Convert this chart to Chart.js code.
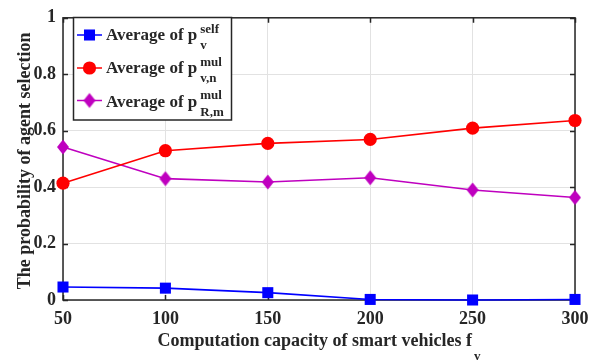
<!DOCTYPE html>
<html>
<head>
<meta charset="utf-8">
<script src="https://cdn.jsdelivr.net/npm/chart.js@4/dist/chart.umd.min.js"></script>
<style>
  html, body { margin: 0; padding: 0; background: #fff; }
  #wrap { width: 600px; height: 362px; position: relative; }
</style>
</head>
<body>
<div id="wrap"><canvas id="c" width="600" height="362"></canvas></div>
<script>
// Computation capacity of smart vehicles (x) and average selection probabilities
const capacities = [50, 100, 150, 200, 250, 300];
const pSelf     = [0.046, 0.042, 0.026, 0.002, 0.000, 0.002];
const pMulVN    = [0.414, 0.529, 0.555, 0.569, 0.609, 0.636];
const pMulRM    = [0.542, 0.430, 0.418, 0.433, 0.390, 0.363];
const xTicks = [50, 100, 150, 200, 250, 300];
const yTicks = [0, 0.2, 0.4, 0.6, 0.8, 1];

const SERIF = '"Liberation Serif", "Times New Roman", serif';
const AXIS_COLOR = '#262626';

// Diamond marker, taller than it is wide
function makeDiamond(color) {
  const cv = document.createElement('canvas');
  cv.width = 14; cv.height = 18;
  const g = cv.getContext('2d');
  g.fillStyle = color;
  g.beginPath();
  g.moveTo(7, 1.5); g.lineTo(13, 9); g.lineTo(7, 16.5); g.lineTo(1, 9);
  g.closePath(); g.fill();
  return cv;
}
const diamond = makeDiamond('#bf00bf');

const series = [
  { data: pSelf,  color: '#0000ff', style: 'rect',   radius: 7.8, sup: 'self', sub: 'v' },
  { data: pMulVN, color: '#ff0000', style: 'circle', radius: 6.6, sup: 'mul',  sub: 'v,n' },
  { data: pMulRM, color: '#bf00bf', style: diamond,  radius: 8,   sup: 'mul',  sub: 'R,m' }
];

// Axes box with inward tick marks on all four sides
const framePlugin = {
  id: 'frame',
  beforeDatasetsDraw(chart) {
    const { ctx, chartArea: a, scales: { x, y } } = chart;
    ctx.save();
    ctx.strokeStyle = AXIS_COLOR;
    ctx.lineWidth = 1.5;
    ctx.strokeRect(a.left, a.top, a.right - a.left, a.bottom - a.top);
    ctx.beginPath();
    const tl = 5;
    xTicks.forEach(v => {
      const px = Math.round(x.getPixelForValue(v)) + 0.5;
      ctx.moveTo(px, a.bottom); ctx.lineTo(px, a.bottom - tl);
      ctx.moveTo(px, a.top); ctx.lineTo(px, a.top + tl);
    });
    yTicks.forEach(v => {
      const py = Math.round(y.getPixelForValue(v)) + 0.5;
      ctx.moveTo(a.left, py); ctx.lineTo(a.left + tl, py);
      ctx.moveTo(a.right, py); ctx.lineTo(a.right - tl, py);
    });
    ctx.stroke();
    ctx.restore();
  }
};

// Axis titles (with subscript) and legend box (with super/subscripts)
const textPlugin = {
  id: 'texts',
  afterDraw(chart) {
    const { ctx, chartArea: a } = chart;
    ctx.save();
    ctx.fillStyle = AXIS_COLOR;

    // x axis title
    const main = 'Computation capacity of smart vehicles f';
    ctx.font = 'bold 18px ' + SERIF;
    const wMain = ctx.measureText(main).width;
    ctx.font = 'bold 13px ' + SERIF;
    const wSub = ctx.measureText('v').width;
    const total = wMain + 2 + wSub;
    const cx = (a.left + a.right) / 2;
    let sx = cx - total / 2;
    ctx.textBaseline = 'alphabetic';
    ctx.textAlign = 'left';
    ctx.font = 'bold 18px ' + SERIF;
    ctx.fillText(main, sx, 346);
    ctx.font = 'bold 13px ' + SERIF;
    ctx.fillText('v', sx + wMain + 2, 360);

    // y axis title
    ctx.save();
    ctx.translate(30, (a.top + a.bottom) / 2 + 2);
    ctx.rotate(-Math.PI / 2);
    ctx.font = 'bold 18px ' + SERIF;
    ctx.textAlign = 'center';
    ctx.fillText('The probability of agent selection', 0, 0);
    ctx.restore();

    // legend
    const box = { l: 73.5, t: 17.5, r: 231.5, b: 120 };
    ctx.fillStyle = '#fff';
    ctx.fillRect(box.l, box.t, box.r - box.l, box.b - box.t);
    ctx.strokeStyle = AXIS_COLOR;
    ctx.lineWidth = 1.5;
    ctx.strokeRect(box.l, box.t, box.r - box.l, box.b - box.t);

    const rows = [
      { base: 40, mark: 35 },
      { base: 73, mark: 68 },
      { base: 106.5, mark: 100.5 }
    ];
    series.forEach((s, i) => {
      const r = rows[i];
      ctx.strokeStyle = s.color;
      ctx.lineWidth = 1.5;
      ctx.beginPath();
      ctx.moveTo(77, r.mark); ctx.lineTo(102, r.mark);
      ctx.stroke();
      ctx.fillStyle = s.color;
      if (s.style === 'rect') {
        const h = s.radius * Math.SQRT1_2;
        ctx.fillRect(89.5 - h, r.mark - h, 2 * h, 2 * h);
      } else if (s.style === 'circle') {
        ctx.beginPath();
        ctx.arc(89.5, r.mark, s.radius, 0, Math.PI * 2);
        ctx.fill();
      } else {
        ctx.drawImage(s.style, 89.5 - 7, r.mark - 9);
      }
      ctx.fillStyle = AXIS_COLOR;
      ctx.textAlign = 'left';
      ctx.font = 'bold 17px ' + SERIF;
      const label = 'Average of p';
      ctx.fillText(label, 106, r.base);
      const w = ctx.measureText(label).width;
      ctx.font = 'bold 13px ' + SERIF;
      ctx.fillText(s.sup, 106 + w + 3, r.base - 7.5);
      ctx.fillText(s.sub, 106 + w + 3, r.base + 9);
    });
    ctx.restore();
  }
};

new Chart(document.getElementById('c'), {
  type: 'line',
  data: {
    labels: capacities,
    datasets: series.map(s => ({
      data: capacities.map((c, i) => ({ x: c, y: s.data[i] })),
      borderColor: s.color,
      backgroundColor: s.color,
      borderWidth: 1.6,
      pointStyle: s.style,
      pointRadius: s.radius,
      pointHoverRadius: s.radius,
      pointBackgroundColor: s.color,
      pointBorderColor: s.color,
      pointBorderWidth: 0,
      tension: 0,
      clip: false
    }))
  },
  options: {
    responsive: false,
    animation: false,
    events: [],
    layout: { padding: { top: 10, right: 25, left: 0, bottom: 0 } },
    plugins: { legend: { display: false }, tooltip: { enabled: false } },
    scales: {
      x: {
        type: 'linear',
        min: 50, max: 300,
        afterBuildTicks(scale) { scale.ticks = xTicks.map(v => ({ value: v })); },
        afterFit(scale) { scale.height = 62; },
        grid: { color: '#e2e2e2', lineWidth: 1, drawTicks: false },
        border: { display: false },
        ticks: {
          padding: 9,
          color: AXIS_COLOR,
          font: { family: SERIF, size: 18, weight: 'bold' },
          maxRotation: 0
        }
      },
      y: {
        type: 'linear',
        min: 0, max: 1,
        afterBuildTicks(scale) { scale.ticks = yTicks.map(v => ({ value: v })); },
        afterFit(scale) { scale.width = 63; },
        grid: { color: '#e2e2e2', lineWidth: 1, drawTicks: false },
        border: { display: false },
        ticks: {
          padding: 7,
          color: AXIS_COLOR,
          font: { family: SERIF, size: 18, weight: 'bold' },
          callback: v => String(v)
        }
      }
    }
  },
  plugins: [framePlugin, textPlugin]
});
</script>
</body>
</html>
